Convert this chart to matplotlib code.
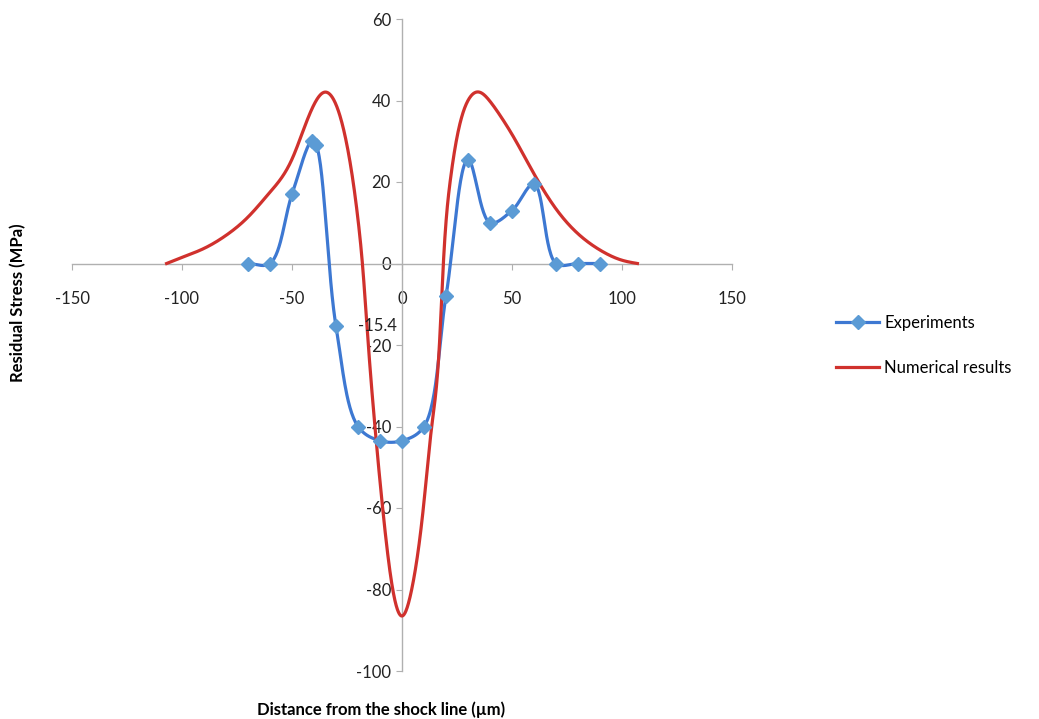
"""Residual stress vs distance from the shock line."""
import numpy as np
import matplotlib
matplotlib.use("Agg")
import matplotlib.pyplot as plt

plt.rcParams['font.family'] = ['Lato', 'DejaVu Sans']
plt.rcParams['axes.unicode_minus'] = False

# Experiments
exp_x = [-70, -60, -50, -41, -39, -30, -20, -10, 0, 10, 20, 30, 40, 50, 60, 70, 80, 90]
exp_y = [0, 0, 17, 30, 29, -15.4, -40, -43.5, -43.5, -40, -8, 25.5, 10, 13, 19.5, 0, 0, 0]

# Numerical results (traced points)
num_x = [-107, -100, -90, -80, -70, -60, -50, -45, -40, -35.5, -30, -25, -20, -18,
         -15.3, -12.3, -8.8, -4.2, 0, 4.4, 9.7, 13.5, 17, 18.8, 22, 25, 30,
         35.5, 40, 45, 50, 60, 70, 80, 90, 100, 107]
num_y = [0, 1.5, 3.7, 6.9, 11.4, 17.5, 25.6, 32.5, 39, 42, 39, 29, 10.8, 0,
         -20, -40, -60, -80, -86.5, -80, -60, -40, -20, 0, 20.6, 31, 40,
         42, 39.8, 36, 31.7, 22, 13.4, 7.3, 3.3, 0.8, 0]

x_ticks = [-150, -100, -50, 0, 50, 100, 150]
y_ticks = [-100, -80, -60, -40, -20, 0, 20, 40, 60]

# rough px-per-unit, only so the curve spacing is measured like on screen
SX, SY = 2.2, 4.075


def centripetal(xs, ys, n=30, alpha=0.5):
    P = np.column_stack([np.array(xs) * SX, np.array(ys) * SY]).astype(float)
    P = np.vstack([2 * P[0] - P[1], P, 2 * P[-1] - P[-2]])
    out = []
    for i in range(1, len(P) - 2):
        p0, p1, p2, p3 = P[i - 1], P[i], P[i + 1], P[i + 2]
        t0 = 0.0
        t1 = t0 + np.linalg.norm(p1 - p0) ** alpha
        t2 = t1 + np.linalg.norm(p2 - p1) ** alpha
        t3 = t2 + np.linalg.norm(p3 - p2) ** alpha
        t = np.linspace(t1, t2, n, endpoint=False)[:, None]
        a1 = (t1 - t) / (t1 - t0) * p0 + (t - t0) / (t1 - t0) * p1
        a2 = (t2 - t) / (t2 - t1) * p1 + (t - t1) / (t2 - t1) * p2
        a3 = (t3 - t) / (t3 - t2) * p2 + (t - t2) / (t3 - t2) * p3
        b1 = (t2 - t) / (t2 - t0) * a1 + (t - t0) / (t2 - t0) * a2
        b2 = (t3 - t) / (t3 - t1) * a2 + (t - t1) / (t3 - t1) * a3
        out.append((t2 - t) / (t2 - t1) * b1 + (t - t1) / (t2 - t1) * b2)
    out.append(P[-2][None])
    s = np.vstack(out)
    return s[:, 0] / SX, s[:, 1] / SY


def natural_spline(x, y, n=1500):
    x = np.asarray(x, float)
    y = np.asarray(y, float)
    m = len(x)
    h = np.diff(x)
    A = np.zeros((m, m))
    r = np.zeros(m)
    A[0, 0] = A[-1, -1] = 1
    for i in range(1, m - 1):
        A[i, i - 1] = h[i - 1]
        A[i, i] = 2 * (h[i - 1] + h[i])
        A[i, i + 1] = h[i]
        r[i] = 6 * ((y[i + 1] - y[i]) / h[i] - (y[i] - y[i - 1]) / h[i - 1])
    M = np.linalg.solve(A, r)
    xs = np.linspace(x[0], x[-1], n)
    k = np.clip(np.searchsorted(x, xs) - 1, 0, m - 2)
    a, b = x[k], x[k + 1]
    hk = b - a
    ys = (M[k] * (b - xs) ** 3 / (6 * hk) + M[k + 1] * (xs - a) ** 3 / (6 * hk)
          + (y[k] / hk - M[k] * hk / 6) * (b - xs)
          + (y[k + 1] / hk - M[k + 1] * hk / 6) * (xs - a))
    return xs, ys


fig = plt.figure(figsize=(10.39, 7.19), dpi=100)
ax = fig.add_axes([72 / 1039, 48 / 719, 660 / 1039, 652 / 719])

bx, by = centripetal(exp_x, exp_y)
ax.plot(bx, by, color='#3d78d2', lw=2.3, zorder=3)
ax.plot(exp_x, exp_y, ls='none', marker='D', ms=7.5, color='#5b9bd5',
        mec='#5b9bd5', zorder=4)
rx, ry = natural_spline(num_x, num_y)
ax.plot(rx, ry, color='#d0312d', lw=2.3, zorder=3)

ax.text(-11, -15.4, '-15.4', fontsize=12, ha='center', va='center', color='#222222')

ax.set_xlim(-150, 150)
ax.set_ylim(-100, 60)
ax.set_xticks(x_ticks)
ax.set_yticks(y_ticks)
ax.spines['left'].set_position(('data', 0))
ax.spines['bottom'].set_position(('data', 0))
ax.spines['top'].set_visible(False)
ax.spines['right'].set_visible(False)
for s in ('left', 'bottom'):
    ax.spines[s].set_color('#b0b0b0')
    ax.spines[s].set_linewidth(1.0)
ax.tick_params(axis='x', direction='out', length=4, color='#b0b0b0',
               pad=16, labelsize=12, labelcolor='#222222')
ax.tick_params(axis='y', direction='out', length=4, color='#b0b0b0',
               pad=4, labelsize=12, labelcolor='#222222')
ax.patch.set_alpha(0)

fig.text(381 / 1039, 1 - 710 / 719, 'Distance from the shock line (µm)',
         fontsize=12, fontweight='bold', ha='center', va='center')
fig.text(18 / 1039, 1 - 303 / 719, 'Residual Stress (MPa)', fontsize=12,
         fontweight='bold', rotation=90, ha='center', va='center')

# legend
h1, = ax.plot([], [], color='#3d78d2', lw=2.3, marker='D', ms=7.5,
              mfc='#5b9bd5', mec='#5b9bd5')
h2, = ax.plot([], [], color='#d0312d', lw=2.3)
fig.legend([h1, h2], ['Experiments', 'Numerical results'], loc='upper left',
           bbox_to_anchor=(836 / 1039, 1 - 315 / 719), frameon=False,
           fontsize=12, handlelength=2.6, handletextpad=0.3, labelspacing=1.75,
           borderpad=0, borderaxespad=0)

plt.savefig('out.png', dpi=100)
